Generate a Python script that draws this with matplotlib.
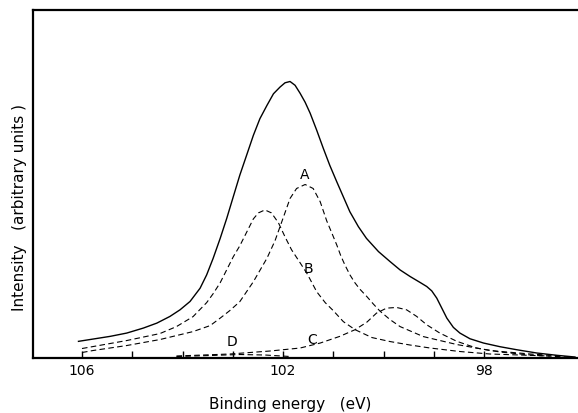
import matplotlib
matplotlib.use("Agg")
import matplotlib.pyplot as plt

# binding energy (eV) and intensity (arbitrary units)
total_e = [106.07, 105.78, 105.44, 105.11, 104.78, 104.51, 104.25, 104.05, 103.85,
           103.65, 103.52, 103.39, 103.25, 103.12, 102.99, 102.86, 102.72, 102.59,
           102.46, 102.32, 102.19, 102.06, 101.96, 101.86, 101.76, 101.66, 101.56,
           101.46, 101.33, 101.20, 101.07, 100.93, 100.80, 100.67, 100.50, 100.34,
           100.10, 99.87, 99.67, 99.47, 99.27, 99.14, 99.04, 98.94, 98.84,
           98.74, 98.61, 98.48, 98.28, 98.01, 97.68, 97.35, 96.95, 96.55, 96.19]
total_i = [16.2, 18.5, 21.2, 24.5, 29.5, 34.5, 41.2, 47.8, 56.2,
           69.5, 82.8, 99.5, 119.5, 139.5, 161.2, 182.8, 203.5, 222.8,
           239.5, 252.8, 264.5, 271.2, 275.5, 276.8, 273.0, 265.0, 256.0,
           245.0, 228.0, 210.0, 192.8, 176.2, 161.2, 146.2, 131.2, 119.5,
           106.2, 96.2, 87.8, 81.2, 75.2, 71.2, 66.8, 59.5, 49.5,
           39.5, 30.2, 24.5, 18.8, 14.5, 10.8, 7.8, 4.5, 2.2, 0.5]

a_e = [106.00, 105.78, 105.11, 104.45, 103.79, 103.45, 103.25, 103.06, 102.86,
       102.59, 102.32, 102.16, 101.99, 101.86, 101.73, 101.56, 101.40, 101.26,
       101.13, 101.03, 100.93, 100.85, 100.77, 100.67, 100.57, 100.47, 100.33,
       100.20, 100.07, 99.87, 99.67, 99.21, 98.54, 97.88, 97.08, 96.43]
a_i = [5.0, 7.0, 12.0, 18.0, 26.0, 32.0, 39.5, 47.0, 56.0,
       76.0, 99.5, 117.0, 141.0, 159.5, 169.5, 173.5, 169.5, 156.2,
       137.0, 125.0, 112.8, 102.0, 93.0, 83.0, 75.0, 68.5, 61.0,
       53.5, 46.5, 38.0, 31.0, 21.0, 13.0, 7.0, 3.5, 1.5]

b_e = [106.00, 105.11, 104.45, 104.12, 103.79, 103.52, 103.39, 103.25, 103.12,
       102.99, 102.86, 102.72, 102.59, 102.49, 102.36, 102.23, 102.09, 101.96,
       101.83, 101.66, 101.52, 101.33, 101.16, 101.00, 100.80, 100.57, 100.23,
       99.87, 99.47, 99.07, 98.48, 97.88, 96.69]
b_i = [9.0, 17.0, 24.0, 31.0, 41.0, 55.0, 64.0, 75.0, 88.0,
       101.0, 112.0, 126.0, 139.0, 145.0, 148.0, 145.0, 135.0, 121.0,
       108.0, 95.0, 84.0, 66.0, 55.0, 47.0, 36.0, 28.0, 20.0,
       16.0, 12.5, 9.5, 6.0, 3.5, 1.5]

c_e = [104.12, 103.06, 102.26, 101.66, 101.26, 100.87, 100.57, 100.33, 100.14,
       99.94, 99.74, 99.54, 99.34, 99.14, 98.88, 98.54, 98.15, 97.68, 97.02, 96.35]
c_i = [1.5, 3.5, 6.5, 9.5, 14.5, 21.2, 27.8, 35.5, 44.5,
       49.5, 50.2, 47.8, 41.2, 32.8, 24.5, 16.2, 9.5, 5.5, 2.2, 0.5]

d_e = [104.12, 103.45, 102.86, 102.36, 101.86]
d_i = [1.0, 2.0, 3.0, 2.5, 1.0]

# peak labels: (text, energy, intensity)
labels = [("A", 101.56, 184.5), ("B", 101.50, 90.0), ("C", 101.42, 19.0), ("D", 103.01, 16.5)]

minor_ticks = [106, 105, 104, 103, 102, 101, 100, 99, 98]
major_ticks = [106, 102, 98]

plt.rcParams.update({"font.family": "DejaVu Sans"})

fig = plt.figure(figsize=(5.78, 4.14), dpi=100)
ax = fig.add_axes([33 / 578, 1 - 359 / 414, 1 - 33 / 578, 348 / 414])

ax.plot(total_e, total_i, color="black", lw=1.0)
for e, i in [(a_e, a_i), (b_e, b_i), (c_e, c_i), (d_e, d_i)]:
    ax.plot(e, i, color="black", lw=0.8, dashes=(5, 3))

for txt, e, i in labels:
    ax.text(e, i, txt, ha="center", va="center", fontsize=10)

ax.set_xlim(106.975, 96.13)
ax.set_ylim(-0.5, 348.5)

ax.set_xticks(major_ticks)
ax.set_xticks(minor_ticks, minor=True)
ax.tick_params(axis="x", which="both", direction="in", length=5, width=1.0,
               labelsize=10, pad=3.5)
ax.set_yticks([])

for side in ["left", "bottom", "top"]:
    ax.spines[side].set_linewidth(1.6)
ax.spines["right"].set_visible(False)

ax.set_xlabel("Binding energy   (eV)", fontsize=11)
ax.xaxis.set_label_coords(0.4716, -0.109)
ax.set_ylabel("Intensity   (arbitrary units )", fontsize=11)
ax.yaxis.set_label_coords(-0.011, 0.434)

fig.savefig("out.png", dpi=100, facecolor="white")
